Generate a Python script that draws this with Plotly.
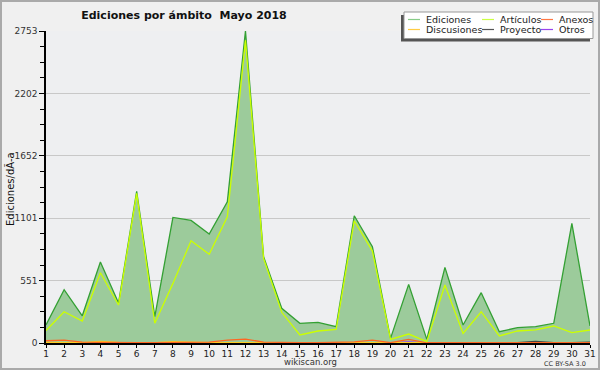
import plotly.graph_objects as go

days = list(range(1, 32))
ediciones = [160, 470, 240, 714, 353, 1338, 232, 1108, 1082, 961, 1246, 2753, 761, 306, 174,
             182, 144, 1123, 850, 41, 517, 32, 667, 159, 444, 100, 135, 144, 174, 1056, 150]
articulos = [110, 276, 194, 620, 335, 1320, 174, 526, 902, 782, 1114, 2670, 747, 271, 71,
             106, 121, 1079, 811, 32, 79, 12, 512, 85, 276, 62, 106, 115, 150, 91, 115]
anexos = [20, 25, 8, 5, 3, 2, 3, 5, 6, 8, 25, 35, 8, 4, 3,
          3, 4, 10, 25, 3, 32, 2, 3, 3, 4, 3, 4, 5, 3, 3, 3]
discusiones = [5, 4, 3, 15, 5, 2, 2, 12, 5, 3, 3, 4, 3, 2, 2,
               2, 2, 3, 4, 2, 5, 2, 2, 2, 3, 2, 2, 3, 2, 2, 2]
proyecto = [2, 2, 2, 2, 2, 2, 2, 2, 2, 2, 2, 2, 2, 2, 2,
            2, 2, 2, 2, 2, 2, 2, 2, 2, 2, 2, 4, 15, 4, 2, 8]
otros = [0, 0, 0, 0, 0, 0, 0, 0, 0, 0, 0, 0, 0, 0, 0,
         0, 0, 0, 0, 0, 10, 0, 0, 0, 0, 0, 0, 0, 0, 0, 0]

series_names = ["Ediciones", "Artículos", "Anexos", "Discusiones", "Proyecto", "Otros"]
legend_colors = ["#88cc88", "#ccff44", "#ff7744", "#ffcc44", "#555555", "#9944ee"]

yticks = [0, 551, 1101, 1652, 2202, 2753]
ymax = 2753

W, H = 600, 370
ML, MR, MT, MB = 46, 10, 31, 27
PW, PH = W - ML - MR, H - MT - MB


def px(x):
    return (x - ML) / PW


def py(y):
    return (H - MB - y) / PH


fig = go.Figure()
fig.add_trace(go.Scatter(x=days, y=ediciones, name="Ediciones", mode="lines",
                         line=dict(color="#33a033", width=1.3), fill="tozeroy",
                         fillcolor="#9ccb9b"))
fig.add_trace(go.Scatter(x=days, y=otros, name="Otros", mode="lines",
                         line=dict(color="#9933ff", width=1.3)))
fig.add_trace(go.Scatter(x=days, y=proyecto, name="Proyecto", mode="lines",
                         line=dict(color="#444444", width=1.3)))
fig.add_trace(go.Scatter(x=days, y=discusiones, name="Discusiones", mode="lines",
                         line=dict(color="#ffcc22", width=1.3)))
fig.add_trace(go.Scatter(x=days, y=anexos, name="Anexos", mode="lines",
                         line=dict(color="#ff6622", width=1.3)))
fig.add_trace(go.Scatter(x=days, y=articulos, name="Artículos", mode="lines",
                         line=dict(color="#ccff00", width=1.3)))

minor_vals = [round(i * ymax / 20, 2) for i in range(21)]

fig.update_layout(
    width=W, height=H,
    margin=dict(l=ML, r=MR, t=MT, b=MB, autoexpand=False),
    paper_bgcolor="#f0f0f0",
    plot_bgcolor="#eeeff1",
    font=dict(family="DejaVu Sans", size=9, color="#222"),
    title=dict(text="<b>Ediciones por ámbito  Mayo 2018</b>", x=184 / W, xanchor="center",
               y=1 - 15 / H, yanchor="middle", font=dict(size=11, color="#111")),
    showlegend=False,
    xaxis=dict(range=[1, 31], tickvals=days, ticktext=[str(d) for d in days],
               showgrid=False, showline=True, linecolor="#000", linewidth=1.5,
               ticks="outside", ticklen=3, tickcolor="#000", zeroline=False,
               tickfont=dict(size=9), automargin=False, ticklabelstandoff=-2),
    yaxis=dict(range=[0, ymax], tickvals=yticks, ticktext=[str(v) for v in yticks],
               showgrid=True, gridcolor="#c8c8c8", gridwidth=1,
               showline=True, linecolor="#000", linewidth=1.5,
               ticks="outside", ticklen=5, tickcolor="#000", zeroline=False,
               tickfont=dict(size=9, color="#333"), automargin=False,
               minor=dict(tickvals=minor_vals, ticks="outside", ticklen=4, tickcolor="#000",
                          showgrid=False)),
)

fig.add_annotation(text="Ediciones/dÃ-a", xref="paper", yref="paper", x=px(10), y=py(189),
                   xanchor="center", yanchor="middle", textangle=-90, showarrow=False,
                   font=dict(size=10, color="#111"))

# custom legend box with shadow
fig.add_shape(type="rect", xref="paper", yref="paper",
              x0=px(401), x1=px(590), y0=py(41.5), y1=py(15),
              line=dict(width=0), fillcolor="#555555", layer="above")
fig.add_shape(type="rect", xref="paper", yref="paper",
              x0=px(404), x1=px(593), y0=py(38.5), y1=py(12),
              line=dict(color="#999999", width=1), fillcolor="#ffffff", layer="above")
col_x = [408, 482, 541]
row_y = [19.5, 29.5]
for i, (name, col) in enumerate(zip(series_names, legend_colors)):
    r, c = divmod(i, 3)
    x0 = col_x[c]
    yy = row_y[r]
    fig.add_shape(type="line", xref="paper", yref="paper",
                  x0=px(x0), x1=px(x0 + 12), y0=py(yy), y1=py(yy),
                  line=dict(color=col, width=1.2), layer="above")
    fig.add_annotation(text=name, xref="paper", yref="paper", x=px(x0 + 15.5), y=py(yy),
                       xanchor="left", yanchor="middle", showarrow=False,
                       font=dict(size=9.5, color="#222"))

fig.add_annotation(text="wikiscan.org", xref="paper", yref="paper", x=px(310), y=py(362),
                   xanchor="center", yanchor="middle", showarrow=False,
                   font=dict(size=8.5, color="#333"))
fig.add_annotation(text="CC BY-SA 3.0", xref="paper", yref="paper", x=px(588), y=py(363.5),
                   xanchor="right", yanchor="middle", showarrow=False,
                   font=dict(size=6.5, color="#333"))
# outer border
fig.add_shape(type="rect", xref="paper", yref="paper",
              x0=px(1), x1=px(599), y0=py(369), y1=py(1),
              line=dict(color="#aaaaaa", width=2), fillcolor="rgba(0,0,0,0)", layer="above")

fig.write_html("out.html", config={"displayModeBar": False},
               post_script="document.body.style.margin='0';document.body.style.overflow='hidden';")
